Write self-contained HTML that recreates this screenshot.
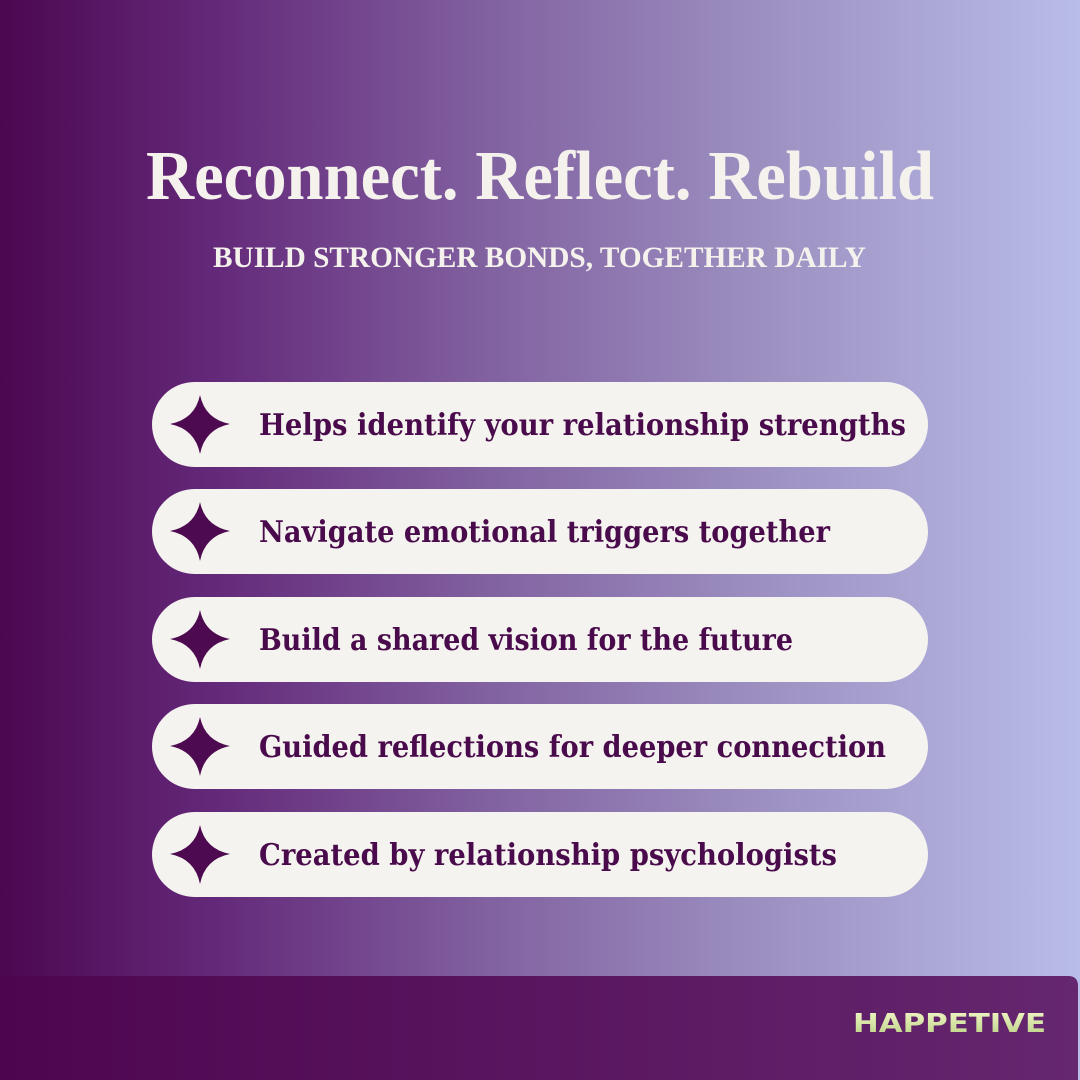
<!DOCTYPE html>
<html><head><meta charset="utf-8"><style>
html,body{margin:0;padding:0;width:1080px;height:1080px;overflow:hidden}
</style></head><body>
<svg width="1080" height="1080" viewBox="0 0 1080 1080" xmlns="http://www.w3.org/2000/svg">
<defs>
<linearGradient id="bg" x1="0" y1="0" x2="1" y2="0">
<stop offset="0" stop-color="#4c0750"/>
<stop offset="0.2" stop-color="#64297a"/>
<stop offset="0.45" stop-color="#8161a0"/>
<stop offset="0.7" stop-color="#9c8fc0"/>
<stop offset="1" stop-color="#b9bde9"/>
</linearGradient>
<linearGradient id="bar" x1="0" y1="0" x2="1" y2="0">
<stop offset="0" stop-color="#4e0550"/>
<stop offset="1" stop-color="#65276f"/>
</linearGradient>
<linearGradient id="logo" x1="0" y1="0" x2="0" y2="1">
<stop offset="0" stop-color="#f2f7c8"/>
<stop offset="1" stop-color="#b8cf80"/>
</linearGradient>
</defs>
<rect width="1080" height="1080" fill="url(#bg)"/>
<path d="M0 976 H1068 Q1078 976 1078 986 V1080 H0 Z" fill="url(#bar)"/>
<g font-family="'Liberation Serif',serif" font-weight="bold" fill="#f5f2ee">
<text x="146" y="199" font-size="70" textLength="788" lengthAdjust="spacingAndGlyphs">Reconnect. Reflect. Rebuild</text>
<text x="213" y="267" font-size="30" textLength="653" lengthAdjust="spacingAndGlyphs">BUILD STRONGER BONDS, TOGETHER DAILY</text>
</g>
<g fill="#f5f3ef">
<rect x="152" y="382" width="776" height="85" rx="42.5"/>
<rect x="152" y="489" width="776" height="85" rx="42.5"/>
<rect x="152" y="597" width="776" height="85" rx="42.5"/>
<rect x="152" y="704" width="776" height="85" rx="42.5"/>
<rect x="152" y="812" width="776" height="85" rx="42.5"/>
</g>
<g fill="#4e0a50">
<path id="st" d="M200 395 Q205 419 230 424 Q205 429 200 454 Q195 429 170 424 Q195 419 200 395Z"/>
<use href="#st" y="107"/>
<use href="#st" y="215"/>
<use href="#st" y="322"/>
<use href="#st" y="430"/>
</g>
<g font-family="'DejaVu Serif','Liberation Serif',serif" font-weight="bold" fill="#4a0b4c" font-size="30">
<text x="259" y="435" textLength="647" lengthAdjust="spacingAndGlyphs">Helps identify your relationship strengths</text>
<text x="259" y="542" textLength="571" lengthAdjust="spacingAndGlyphs">Navigate emotional triggers together</text>
<text x="259" y="650" textLength="534" lengthAdjust="spacingAndGlyphs">Build a shared vision for the future</text>
<text x="259" y="757" textLength="627" lengthAdjust="spacingAndGlyphs">Guided reflections for deeper connection</text>
<text x="259" y="865" textLength="578" lengthAdjust="spacingAndGlyphs">Created by relationship psychologists</text>
</g>
<text x="853" y="1032" font-family="'DejaVu Sans','Liberation Sans',sans-serif" font-weight="bold" font-size="26" fill="url(#logo)" textLength="193" lengthAdjust="spacingAndGlyphs">HAPPETIVE</text>
</svg>
</body></html>
